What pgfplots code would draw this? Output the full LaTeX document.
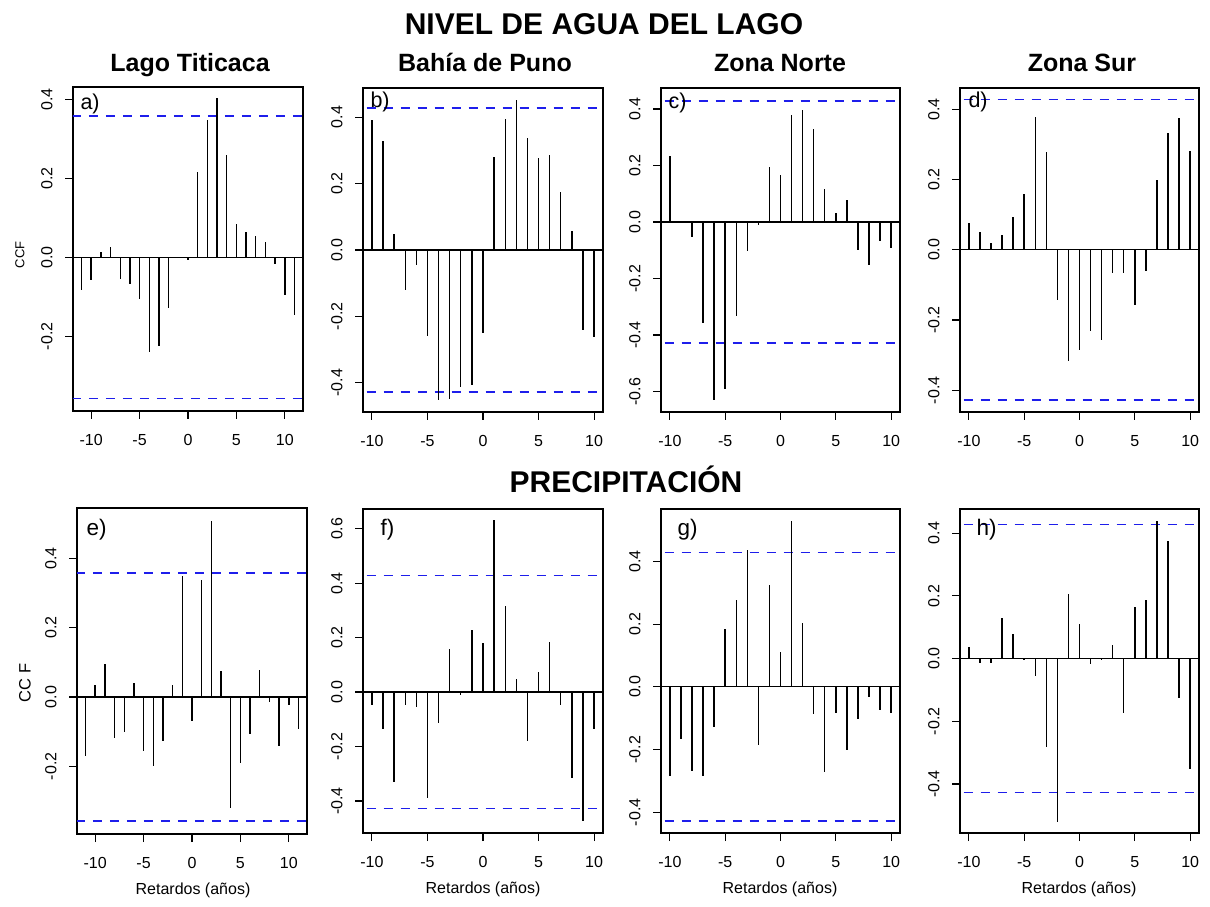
\documentclass[border=0pt]{standalone}
\usepackage{fontspec}
\setmainfont{Liberation Sans}
\usepackage{pgfplots}
\usepackage{pgfplotstable}
\pgfplotsset{compat=1.18}

\definecolor{climblue}{RGB}{30,30,235}

% Lag  CCF
\pgfplotstableread{
lag val
-11 -0.082
-10 -0.058
-9 0.014
-8 0.026
-7 -0.056
-6 -0.067
-5 -0.105
-4 -0.239
-3 -0.224
-2 -0.128
-1 -0.003
0 -0.007
1 0.216
2 0.347
3 0.402
4 0.258
5 0.084
6 0.063
7 0.055
8 0.039
9 -0.016
10 -0.095
11 -0.147
}\tabA
\pgfplotstableread{
lag val
-10 0.393
-9 0.328
-8 0.048
-7 -0.122
-6 -0.044
-5 -0.260
-4 -0.452
-3 -0.448
-2 -0.413
-1 -0.408
0 -0.250
1 0.280
2 0.396
3 0.453
4 0.337
5 0.278
6 0.286
7 0.175
8 0.058
9 -0.242
10 -0.263
}\tabB
\pgfplotstableread{
lag val
-10 0.232
-9 0.005
-8 -0.054
-7 -0.357
-6 -0.631
-5 -0.591
-4 -0.331
-3 -0.104
-2 -0.012
-1 0.195
0 0.167
1 0.380
2 0.395
3 0.328
4 0.117
5 0.033
6 0.078
7 -0.099
8 -0.153
9 -0.068
10 -0.092
}\tabC
\pgfplotstableread{
lag val
-10 0.077
-9 0.050
-8 0.020
-7 0.043
-6 0.093
-5 0.158
-4 0.377
-3 0.279
-2 -0.144
-1 -0.316
0 -0.285
1 -0.230
2 -0.257
3 -0.066
4 -0.067
5 -0.158
6 -0.059
7 0.198
8 0.333
9 0.375
10 0.281
}\tabD
\pgfplotstableread{
lag val
-11 -0.169
-10 0.034
-9 0.095
-8 -0.118
-7 -0.101
-6 0.041
-5 -0.157
-4 -0.199
-3 -0.128
-2 0.034
-1 0.350
0 -0.068
1 0.336
2 0.508
3 0.076
4 -0.320
5 -0.191
6 -0.106
7 0.079
8 -0.014
9 -0.140
10 -0.022
11 -0.093
}\tabE
\pgfplotstableread{
lag val
-10 -0.049
-9 -0.136
-8 -0.332
-7 -0.047
-6 -0.055
-5 -0.389
-4 -0.112
-3 0.159
-2 -0.011
-1 0.227
0 0.181
1 0.631
2 0.317
3 0.047
4 -0.181
5 0.074
6 0.185
7 -0.047
8 -0.317
9 -0.474
10 -0.136
}\tabF
\pgfplotstableread{
lag val
-10 -0.285
-9 -0.165
-8 -0.269
-7 -0.284
-6 -0.128
-5 0.184
-4 0.278
-3 0.436
-2 -0.184
-1 0.324
0 0.110
1 0.530
2 0.202
3 -0.088
4 -0.273
5 -0.082
6 -0.202
7 -0.102
8 -0.032
9 -0.073
10 -0.083
}\tabG
\pgfplotstableread{
lag val
-10 0.036
-9 -0.013
-8 -0.015
-7 0.131
-6 0.078
-5 -0.004
-4 -0.057
-3 -0.281
-2 -0.520
-1 0.205
0 0.110
1 -0.016
2 -0.006
3 0.045
4 -0.172
5 0.166
6 0.187
7 0.440
8 0.374
9 -0.124
10 -0.353
}\tabH

\pgfplotsset{
  ccf/.style={
    scale only axis,
    anchor=south west,
    axis line style={line width=1.3pt},
    xtick={-10,-5,0,5,10},
    xticklabels={-10,-5,0,5,10},
    tick pos=left,
    tick align=outside,
    major tick length=8pt,
    tick style={line width=1.2pt, black},
    tick label style={font=\fontsize{16}{19}\selectfont},
    yticklabel style={rotate=90, anchor=south},
    xticklabel shift=12pt,
    yticklabel shift=9pt,
  },
  stem/.style={ycomb, black, line width=1.4pt, mark=none},
  zero/.style={black, line width=1.3pt},
  clim/.style={climblue, line width=1.4pt, dash pattern=on 9pt off 8pt},
}
\tikzset{letter/.style={anchor=base west, font=\fontsize{21.5}{24}\selectfont}}

\begin{document}
\begin{tikzpicture}
% ---------------- top row: NIVEL DE AGUA DEL LAGO ----------------
\begin{axis}[ccf, at={(73pt,495pt)}, width=230pt, height=324pt,
  xmin=-11.88, xmax=11.88, ymin=-0.389, ymax=0.431,
  ytick={-0.2,0,0.2,0.4}, yticklabels={-0.2,0.0,0.2,0.4}]
  \addplot[zero] coordinates {(-12,0) (12,0)};
  \addplot[clim] coordinates {(-12,0.3578) (12,0.3578)};
  \addplot[clim] coordinates {(-12,-0.3578) (12,-0.3578)};
  \addplot[stem] table[x=lag,y=val] {\tabA};
  \node[letter] at (rel axis cs:0,1) [xshift=4pt, yshift=-22pt] {a)};
\end{axis}
\begin{axis}[ccf, at={(363pt,494pt)}, width=240pt, height=324pt,
  xmin=-10.8, xmax=10.8, ymin=-0.488, ymax=0.488,
  ytick={-0.4,-0.2,0,0.2,0.4}, yticklabels={-0.4,-0.2,0.0,0.2,0.4}]
  \addplot[zero] coordinates {(-12,0) (12,0)};
  \addplot[clim] coordinates {(-12,0.4277) (12,0.4277)};
  \addplot[clim] coordinates {(-12,-0.4277) (12,-0.4277)};
  \addplot[stem] table[x=lag,y=val] {\tabB};
  \node[letter] at (rel axis cs:0,1) [xshift=4pt, yshift=-20pt] {b)};
\end{axis}
\begin{axis}[ccf, at={(661pt,494pt)}, width=239pt, height=324pt,
  xmin=-10.8, xmax=10.8, ymin=-0.672, ymax=0.474,
  ytick={-0.6,-0.4,-0.2,0,0.2,0.4}, yticklabels={-0.6,-0.4,-0.2,0.0,0.2,0.4}]
  \addplot[zero] coordinates {(-12,0) (12,0)};
  \addplot[clim] coordinates {(-12,0.4277) (12,0.4277)};
  \addplot[clim] coordinates {(-12,-0.4277) (12,-0.4277)};
  \addplot[stem] table[x=lag,y=val] {\tabC};
  \node[letter] at (rel axis cs:0,1) [xshift=4pt, yshift=-20pt] {c)};
\end{axis}
\begin{axis}[ccf, at={(960pt,494pt)}, width=239pt, height=324pt,
  xmin=-10.8, xmax=10.8, ymin=-0.462, ymax=0.461,
  ytick={-0.4,-0.2,0,0.2,0.4}, yticklabels={-0.4,-0.2,0.0,0.2,0.4}]
  \addplot[zero] coordinates {(-12,0) (12,0)};
  \addplot[clim] coordinates {(-12,0.4277) (12,0.4277)};
  \addplot[clim] coordinates {(-12,-0.4277) (12,-0.4277)};
  \addplot[stem] table[x=lag,y=val] {\tabD};
  \node[letter] at (rel axis cs:0,1) [xshift=5pt, yshift=-20pt] {d)};
\end{axis}
% ---------------- bottom row: PRECIPITACION ----------------
\begin{axis}[ccf, at={(77pt,72pt)}, width=230pt, height=326pt,
  xmin=-11.88, xmax=11.88, ymin=-0.395, ymax=0.545,
  ytick={-0.2,0,0.2,0.4}, yticklabels={-0.2,0.0,0.2,0.4}]
  \addplot[zero] coordinates {(-12,0) (12,0)};
  \addplot[clim] coordinates {(-12,0.3578) (12,0.3578)};
  \addplot[clim] coordinates {(-12,-0.3578) (12,-0.3578)};
  \addplot[stem] table[x=lag,y=val] {\tabE};
  \node[letter, font=\fontsize{22.5}{25}\selectfont] at (rel axis cs:0,1) [xshift=6pt, yshift=-27pt] {e)};
\end{axis}
\begin{axis}[ccf, at={(363pt,73pt)}, width=240pt, height=324pt,
  xmin=-10.8, xmax=10.8, ymin=-0.518, ymax=0.673,
  ytick={-0.4,-0.2,0,0.2,0.4,0.6}, yticklabels={-0.4,-0.2,0.0,0.2,0.4,0.6}]
  \addplot[zero] coordinates {(-12,0) (12,0)};
  \addplot[clim] coordinates {(-12,0.4277) (12,0.4277)};
  \addplot[clim] coordinates {(-12,-0.4277) (12,-0.4277)};
  \addplot[stem] table[x=lag,y=val] {\tabF};
  \node[letter, font=\fontsize{22.5}{25}\selectfont] at (rel axis cs:0,1) [xshift=14pt, yshift=-26pt] {f)};
\end{axis}
\begin{axis}[ccf, at={(661pt,73pt)}, width=239pt, height=324pt,
  xmin=-10.8, xmax=10.8, ymin=-0.466, ymax=0.567,
  ytick={-0.4,-0.2,0,0.2,0.4}, yticklabels={-0.4,-0.2,0.0,0.2,0.4}]
  \addplot[zero] coordinates {(-12,0) (12,0)};
  \addplot[clim] coordinates {(-12,0.4277) (12,0.4277)};
  \addplot[clim] coordinates {(-12,-0.4277) (12,-0.4277)};
  \addplot[stem] table[x=lag,y=val] {\tabG};
  \node[letter, font=\fontsize{22.5}{25}\selectfont] at (rel axis cs:0,1) [xshift=13pt, yshift=-26pt] {g)};
\end{axis}
\begin{axis}[ccf, at={(960pt,73pt)}, width=239pt, height=324pt,
  xmin=-10.8, xmax=10.8, ymin=-0.556, ymax=0.477,
  ytick={-0.4,-0.2,0,0.2,0.4}, yticklabels={-0.4,-0.2,0.0,0.2,0.4}]
  \addplot[zero] coordinates {(-12,0) (12,0)};
  \addplot[clim] coordinates {(-12,0.4277) (12,0.4277)};
  \addplot[clim] coordinates {(-12,-0.4277) (12,-0.4277)};
  \addplot[stem] table[x=lag,y=val] {\tabH};
  \node[letter, font=\fontsize{22.5}{25}\selectfont] at (rel axis cs:0,1) [xshift=13pt, yshift=-26pt] {h)};
\end{axis}
% ---------------- titles and labels ----------------
\node[anchor=base, font=\bfseries\fontsize{30}{36}\selectfont] at (604pt,871pt) {NIVEL DE AGUA DEL LAGO};
\node[anchor=base, font=\bfseries\fontsize{30}{36}\selectfont] at (626pt,413pt) {PRECIPITACIÓN};
\node[anchor=base, font=\bfseries\fontsize{25}{30}\selectfont] at (190pt,834pt) {Lago Titicaca};
\node[anchor=base, font=\bfseries\fontsize{25}{30}\selectfont] at (485pt,834pt) {Bahía de Puno};
\node[anchor=base, font=\bfseries\fontsize{25}{30}\selectfont] at (780pt,834pt) {Zona Norte};
\node[anchor=base, font=\bfseries\fontsize{25}{30}\selectfont] at (1082pt,834pt) {Zona Sur};
\node[rotate=90, font=\fontsize{13}{15}\selectfont] at (20pt,651pt) {CCF};
\node[rotate=90, font=\fontsize{16.5}{19}\selectfont] at (25pt,223pt) {CC F};
\node[font=\fontsize{16}{19}\selectfont] at (193pt,16pt) {Retardos (años)};
\node[font=\fontsize{16}{19}\selectfont] at (483pt,17pt) {Retardos (años)};
\node[font=\fontsize{16}{19}\selectfont] at (780pt,17pt) {Retardos (años)};
\node[font=\fontsize{16}{19}\selectfont] at (1079pt,17pt) {Retardos (años)};
\pgfresetboundingbox
\useasboundingbox (0pt,0pt) rectangle (1210pt,906pt);
\end{tikzpicture}
\end{document}
